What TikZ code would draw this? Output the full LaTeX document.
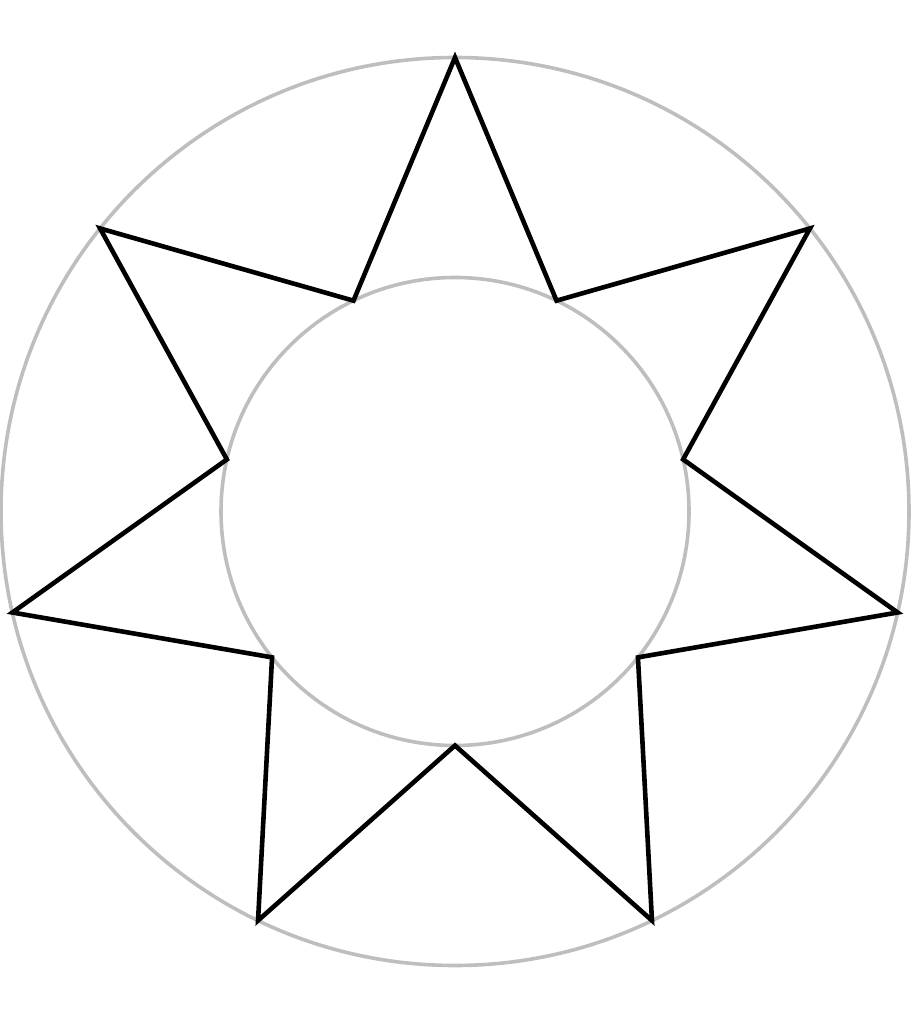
\documentclass[tikz,border=0pt]{standalone}
\usetikzlibrary{calc}
\begin{document}
\begin{tikzpicture}[x=1pt,y=1pt,
  guide/.style={draw={rgb,255:red,190;green,190;blue,190},line width=3.6pt},
  starline/.style={draw=black,line width=4.6pt,line join=miter}]
\useasboundingbox (0,0) rectangle (910,1024);
\coordinate (c) at (455,512.5);
\draw[guide] (c) circle[radius=454];
\draw[guide] (c) circle[radius=234];
\foreach \i in {0,...,6}{
  \coordinate (o\i) at ($(c)+({90-\i*360/7}:454)$);
  \coordinate (n\i) at ($(c)+({90-\i*360/7-180/7}:234)$);
}
\draw[starline] (o0)--(n0)--(o1)--(n1)--(o2)--(n2)--(o3)--(n3)--(o4)--(n4)--(o5)--(n5)--(o6)--(n6)--cycle;
\end{tikzpicture}
\end{document}
